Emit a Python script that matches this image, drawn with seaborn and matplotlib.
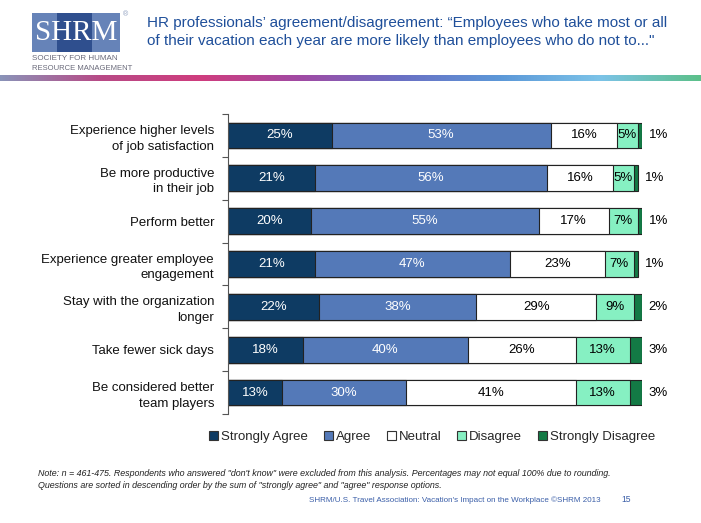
import numpy as np
import pandas as pd
import matplotlib
matplotlib.use("Agg")
import matplotlib.pyplot as plt
from matplotlib.colors import LinearSegmentedColormap
from matplotlib.patches import Rectangle, Patch
import seaborn as sns

categories = [
    "Experience higher levels\nof job satisfaction",
    "Be more productive\nin their job",
    "Perform better",
    "Experience greater employee\nengagement",
    "Stay with the organization\nlonger",
    "Take fewer sick days",
    "Be considered better\nteam players",
]
series_names = ["Strongly Agree", "Agree", "Neutral", "Disagree", "Strongly Disagree"]
strongly_agree = [25, 21, 20, 21, 22, 18, 13]
agree = [53, 56, 55, 47, 38, 40, 30]
neutral = [16, 16, 17, 23, 29, 26, 41]
disagree = [5, 5, 7, 7, 9, 13, 13]
strongly_disagree = [1, 1, 1, 1, 2, 3, 3]

colors = ["#0e3b63", "#5479b8", "#ffffff", "#86f0c2", "#137a45"]
text_colors = ["white", "white", "black", "black", "black"]

sns.set_theme(style="white")
plt.rcParams["font.family"] = ["Liberation Sans", "DejaVu Sans"]

fig = plt.figure(figsize=(7.01, 5.23), dpi=100)
W, H = 701, 523

def fx(px):
    return px / W

def fy(py):
    return 1 - py / H

ax = fig.add_axes([fx(228), fy(414), fx(642) - fx(228), fy(114) - fy(414)])

values = [strongly_agree, agree, neutral, disagree, strongly_disagree]
df = pd.DataFrame({n: v for n, v in zip(series_names, values)})
df["cat"] = categories
cum = df[series_names].cumsum(axis=1)

# draw cumulative bars from largest to smallest
for i in range(len(series_names) - 1, -1, -1):
    name = series_names[i]
    sns.barplot(x=cum[name], y=df["cat"], orient="h", color=colors[i],
                saturation=1, width=0.6, edgecolor="#222222", linewidth=0.8, ax=ax)

# labels
for r in range(len(categories)):
    left = 0
    for i, name in enumerate(series_names):
        v = values[i][r]
        if v >= 5:
            ax.text(left + v / 2, r, f"{v}%", ha="center", va="center",
                    fontsize=9.5, color=text_colors[i])
        else:
            ax.text(left + v + 1.6, r, f"{v}%", ha="left", va="center",
                    fontsize=9.5, color="black", clip_on=False)
        left += v

ax.set_xlim(0, 100)
ax.set_ylim(6.5, -0.5)
ax.set_xlabel("")
ax.set_ylabel("")
ax.set_xticks([])
for s in ["top", "right", "bottom"]:
    ax.spines[s].set_visible(False)
ax.spines["left"].set_color("#555555")
ax.spines["left"].set_linewidth(0.8)
ax.tick_params(axis="y", which="major", length=0, pad=10, labelsize=9.5, labelcolor="#111111")
ax.set_yticks(range(len(categories)))
ax.set_yticklabels(categories, ha="right", multialignment="right", linespacing=1.4)
ax.set_yticks(np.arange(-0.5, 7, 1), minor=True)
ax.tick_params(axis="y", which="minor", left=True, length=4, width=0.8, color="#555555")

# legend
handles = [Patch(facecolor=c, edgecolor="#333333", linewidth=0.8) for c in colors]
fig.legend(handles, series_names, loc="center", bbox_to_anchor=(fx(432), fy(437)),
           ncol=5, frameon=False, fontsize=9.5, handlelength=0.7, handleheight=0.7,
           handletextpad=0.2, columnspacing=1.2)

# header: logo
fig.patches.append(Rectangle((fx(32), fy(52)), fx(120) - fx(32), fy(13) - fy(52),
                             transform=fig.transFigure, facecolor="#6683b8", edgecolor="none"))
fig.patches.append(Rectangle((fx(57), fy(52)), fx(92) - fx(57), fy(13) - fy(52),
                             transform=fig.transFigure, facecolor="#2f4f8e", edgecolor="none"))
fig.text(fx(76), fy(33), "SHRM", ha="center", va="center", fontsize=21,
         family=["Liberation Serif", "DejaVu Serif"], color="white")
fig.text(fx(123), fy(15), "®", ha="left", va="center", fontsize=5, color="#8899bb")
fig.text(fx(32), fy(59), "SOCIETY FOR HUMAN", ha="left", va="center", fontsize=5.8, color="#6a6a7a")
fig.text(fx(32), fy(68), "RESOURCE MANAGEMENT", ha="left", va="center", fontsize=5.5, color="#6a6a7a")

fig.text(fx(147), fy(32), "HR professionals\u2019 agreement/disagreement: \u201cEmployees who take most or all\n"
         "of their vacation each year are more likely than employees who do not to...\"",
         ha="left", va="center", fontsize=11, color="#1f4f9a", linespacing=1.3)

# gradient rule
gax = fig.add_axes([0, fy(81), 1, fy(75) - fy(81)])
cmap = LinearSegmentedColormap.from_list("rule", ["#8a93b8", "#b84a86", "#cf3d7e", "#a04aa4",
                                                  "#6a70c4", "#5c98d8", "#7cc3e8", "#5cc08a"])
grad = np.linspace(0, 1, 512).reshape(1, -1)
gax.imshow(grad, aspect="auto", cmap=cmap, extent=[0, 1, 0, 1])
gax.axis("off")

# footnotes
fig.text(fx(38), fy(473), "Note: n = 461-475. Respondents who answered \"don't know\" were excluded from this analysis. "
         "Percentages may not equal 100% due to rounding.",
         ha="left", va="center", fontsize=6.4, style="italic", color="#222222")
fig.text(fx(38), fy(485), "Questions are sorted in descending order by the sum of \"strongly agree\" and \"agree\" response options.",
         ha="left", va="center", fontsize=6.4, style="italic", color="#222222")
fig.text(fx(601), fy(500), "SHRM/U.S. Travel Association: Vacation's Impact on the Workplace \u00a9SHRM 2013",
         ha="right", va="center", fontsize=5.8, color="#3a5ea8")
fig.text(fx(626), fy(500), "15", ha="center", va="center", fontsize=6.2, color="#3a5ea8")

fig.savefig("out.png", dpi=100)
